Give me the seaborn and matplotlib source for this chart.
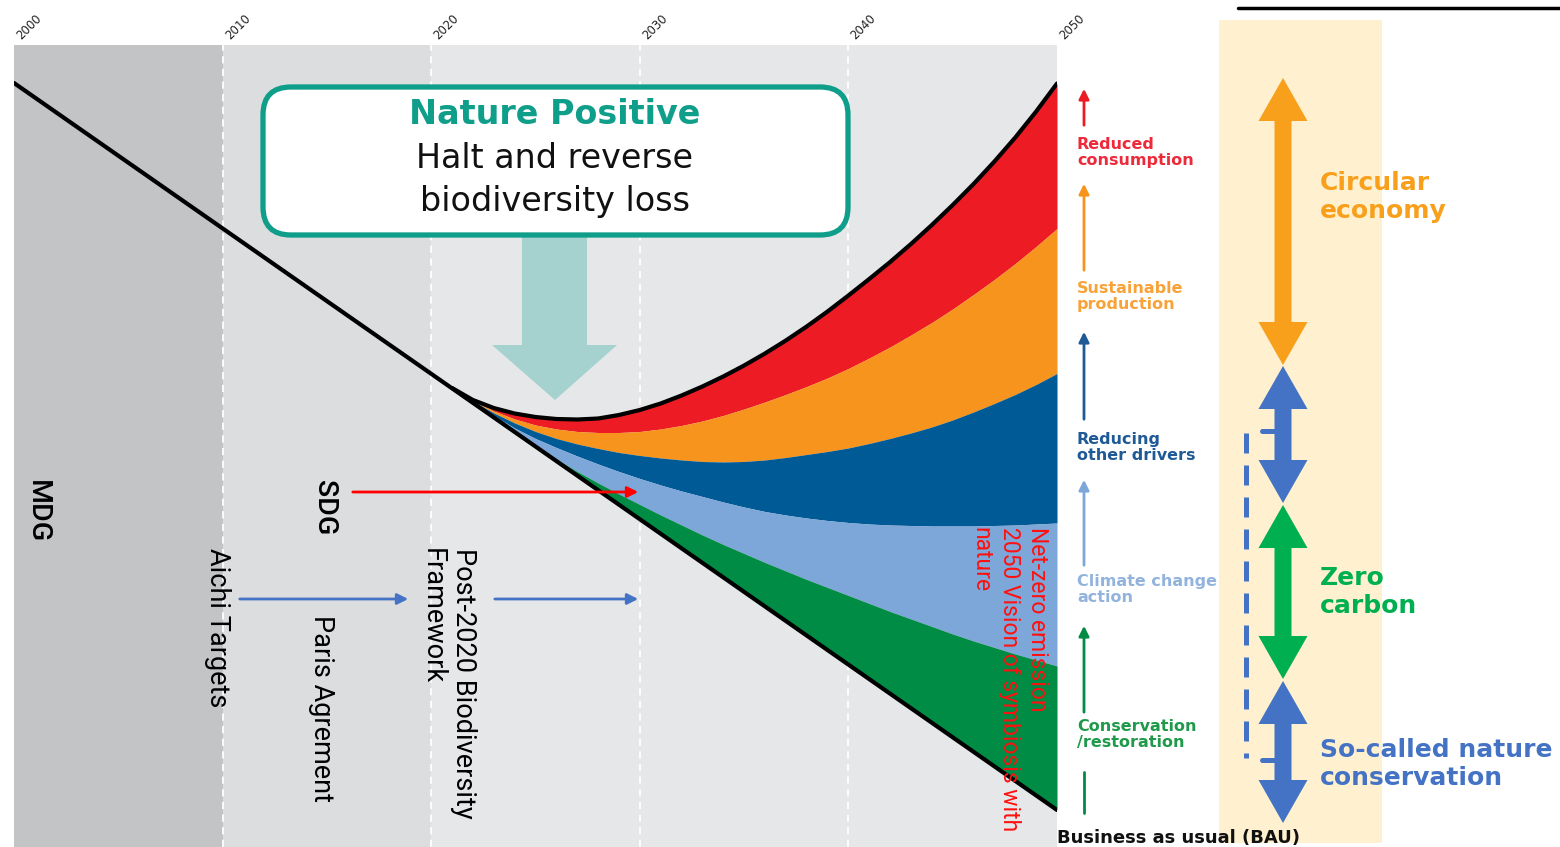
import numpy as np
import matplotlib
matplotlib.use("Agg")
import matplotlib.pyplot as plt
from matplotlib.patches import FancyBboxPatch, Polygon, Rectangle
import seaborn as sns

# ---- data: biodiversity index (arbitrary units) ----
bau_years = [2000, 2050]
bau_index = [764, 37]

years = list(range(2021, 2051))
top_curve = [459, 447, 439, 433.5, 430, 428, 427.5, 428.5, 432, 437,
             443.5, 451.5, 460.5, 470.5, 481.5, 493.5, 506.5, 520.5, 535.5, 551.5,
             568, 585, 603, 622, 642, 663, 685.5, 709.5, 735.5, 763.5]
red_orange = [459, 447, 436, 428, 422, 418, 415.5, 414.5, 414.5, 415.5,
              418, 421.5, 426, 431.5, 438, 445, 452.5, 460.5, 469, 478.5,
              489, 500, 512, 524.5, 538, 552.5, 567.5, 583.5, 600.5, 618.5]
orange_blue = [459, 446, 434, 424, 415.5, 408.5, 403, 398.5, 394.5, 391.5,
               389, 387, 385.5, 385, 385.5, 387, 389.5, 392.5, 395.5, 399,
               403.5, 408.5, 414, 420, 427, 435, 443.5, 452.5, 462.5, 473.5]
blue_light = [459, 445, 431.5, 419, 408.5, 399.5, 391, 383, 375.5, 368.5,
              362, 356, 350.5, 345, 340, 335.5, 332, 329, 326.5, 324.5,
              323, 322, 321.5, 321, 321, 321, 321.5, 322, 323, 324]
light_green = [459, 444.5, 430, 415.5, 401.5, 388, 375.5, 364, 353, 342.5,
               332, 322, 312, 302.5, 293.5, 284.5, 276, 267.5, 259.5, 251.5,
               243.5, 235.5, 228, 220.5, 213, 206, 199.5, 193, 187, 181]

periods = [2000, 2010, 2020, 2050]
period_colors = ["#c3c4c6", "#dcdddf", "#e6e7e9"]
year_ticks = [2000, 2010, 2020, 2030, 2040, 2050]

band_colors = ["#ed1c24", "#f7941d", "#005a96", "#7da7d9", "#008c44"]
arrow_colors = ["#ed1c24", "#f7941d", "#1f5a96", "#7da7d9", "#008c44"]
driver_labels = ["Reduced\nconsumption", "Sustainable\nproduction", "Reducing\nother drivers",
                 "Climate change\naction", "Conservation\n/restoration"]
driver_colors = ["#ee2a3a", "#f8a237", "#1f5a96", "#92b3de", "#1e9a4a"]

sns.set_theme(style="white")
plt.rcParams['font.family'] = ['DejaVu Sans']

fig = plt.figure(figsize=(15.6, 8.47), dpi=100)
ax = fig.add_axes([14 / 1560, 0, 1043 / 1560, 802 / 847])
ax.set_xlim(2000, 2050)
ax.set_ylim(0, 802)

for i in range(3):
    ax.axvspan(periods[i], periods[i + 1], color=period_colors[i], lw=0, zorder=0)
for x in [2010, 2020, 2030, 2040]:
    ax.axvline(x, color="white", lw=1.3, ls=(0, (4, 3)), zorder=1)

yrs = np.array(years)
bau_at = np.interp(yrs, bau_years, bau_index)
bounds = [top_curve, red_orange, orange_blue, blue_light, light_green, bau_at]
for i in range(5):
    ax.fill_between(yrs, bounds[i], bounds[i + 1], color=band_colors[i], lw=0, zorder=2)

sns.lineplot(x=bau_years, y=bau_index, color="black", lw=3, ax=ax, zorder=3)
sns.lineplot(x=years, y=top_curve, color="black", lw=3, ax=ax, zorder=3)

ax.xaxis.tick_top()
ax.set_xticks(year_ticks)
ax.set_xticklabels([str(y) for y in year_ticks], rotation=45, ha="left", fontsize=8.5,
                   color="#222222")
ax.tick_params(axis="x", length=0, pad=2)
ax.set_yticks([])
for s in ax.spines.values():
    s.set_visible(False)

# ---- annotation layer in pixel units ----
ann = fig.add_axes([0, 0, 1, 1])
ann.set_xlim(0, 1560)
ann.set_ylim(847, 0)
ann.axis("off")
ann.patch.set_alpha(0)
ann.set_zorder(5)

rf = ["Roboto", "DejaVu Sans"]
ann.text(37, 480, "MDG", rotation=-90, va="top", ha="center", fontsize=20.5, family=rf,
         weight="medium", color="black")
ann.text(325, 480, "SDG", rotation=-90, va="top", ha="center", fontsize=20.5, family=rf,
         weight="medium", color="black")
ann.text(218, 548, "Aichi Targets", rotation=-90, va="top", ha="center", fontsize=19.5,
         family=rf, color="black")
ann.text(322, 615, "Paris Agrement", rotation=-90, va="top", ha="center", fontsize=19.5,
         family=rf, color="black")
ann.text(448, 548, "Post-2020 Biodiversity\nFramework", rotation=-90, va="top", ha="center",
         multialignment="left", fontsize=19.5, family=rf, linespacing=1.2, color="black")
ann.text(1009, 527, "Net-zero emission\n2050 Vision of symbiosis with\nnature", rotation=-90,
         va="top", ha="center", multialignment="left", fontsize=16.5, family=rf,
         color="#ff1010", linespacing=1.3)

ann.annotate("", xy=(641, 492), xytext=(350, 492),
             arrowprops=dict(arrowstyle="-|>", color="#ff0000", lw=2, mutation_scale=16))
ann.annotate("", xy=(411, 599), xytext=(237, 599),
             arrowprops=dict(arrowstyle="-|>", color="#4472c4", lw=2, mutation_scale=16))
ann.annotate("", xy=(641, 599), xytext=(492, 599),
             arrowprops=dict(arrowstyle="-|>", color="#4472c4", lw=2, mutation_scale=16))

# Nature Positive box and arrow
ann.add_patch(Polygon([(522, 236), (587, 236), (587, 345), (617, 345), (555, 400),
                       (492, 345), (522, 345)], closed=True, fc="#a5d2ce", ec="none", zorder=1))
ann.add_patch(FancyBboxPatch((263, 87), 585, 148, boxstyle="round,pad=0,rounding_size=28",
                             fc="white", ec="#0f9e8a", lw=3.8, zorder=2))
ann.text(555, 115, "Nature Positive", ha="center", va="center", fontsize=24, weight="bold",
         color="#0f9e8a", zorder=3)
ann.text(555, 159, "Halt and reverse", ha="center", va="center", fontsize=24,
         color="#111111", zorder=3)
ann.text(555, 202, "biodiversity loss", ha="center", va="center", fontsize=24,
         color="#111111", zorder=3)

# driver arrows and labels
arrow_spans = [(128, 86), (273, 181), (422, 329), (568, 477), (715, 623)]
label_tops = [137, 281, 432, 574, 719]
for (y0, y1), lab, col, lc, yt in zip(arrow_spans, driver_labels, arrow_colors, driver_colors, label_tops):
    ann.annotate("", xy=(1084, y1), xytext=(1084, y0),
                 arrowprops=dict(arrowstyle="-|>", color=col, lw=2, mutation_scale=15))
    ann.text(1077, yt, lab, ha="left", va="top", fontsize=11.5, weight="bold", color=lc,
             linespacing=1.12)
ann.plot([1084, 1084], [772, 813], color="#008c44", lw=2)

ann.text(1057, 838, "Business as usual (BAU)", ha="left", va="center", fontsize=13,
         weight="bold", color="#111111")

# right panel
ann.add_patch(Rectangle((1219, 20), 163, 823, fc="#fff1cf", ec="none", zorder=0))
ann.plot([1238, 1560], [8, 8], color="black", lw=2.5)


def double_arrow(y_top, y_bot, color, x=1283, head=43, hw=24.5, sw=8.5):
    pts = [(x, y_top), (x + hw, y_top + head), (x + sw, y_top + head), (x + sw, y_bot - head),
           (x + hw, y_bot - head), (x, y_bot), (x - hw, y_bot - head), (x - sw, y_bot - head),
           (x - sw, y_top + head), (x - hw, y_top + head)]
    ann.add_patch(Polygon(pts, closed=True, fc=color, ec="none", zorder=2))


double_arrow(78, 365, "#f8a01c")
double_arrow(366, 503, "#4472c4")
double_arrow(505, 679, "#00b050")
double_arrow(681, 823, "#4472c4")

ann.plot([1246, 1246], [433, 758], color="#4472c4", lw=3.6, dashes=(4, 2.4), zorder=2)
ann.plot([1262, 1277], [431, 431], color="#4472c4", lw=3.6, zorder=2)
ann.plot([1262, 1277], [760, 760], color="#4472c4", lw=3.6, zorder=2)

ann.text(1320, 197, "Circular\neconomy", ha="left", va="center", fontsize=18, weight="bold",
         color="#f8a01c", linespacing=1.2)
ann.text(1320, 592, "Zero\ncarbon", ha="left", va="center", fontsize=18, weight="bold",
         color="#00b050", linespacing=1.2)
ann.text(1320, 764, "So-called nature\nconservation", ha="left", va="center", fontsize=18,
         weight="bold", color="#4472c4", linespacing=1.2)

fig.savefig("out.png", dpi=100)
